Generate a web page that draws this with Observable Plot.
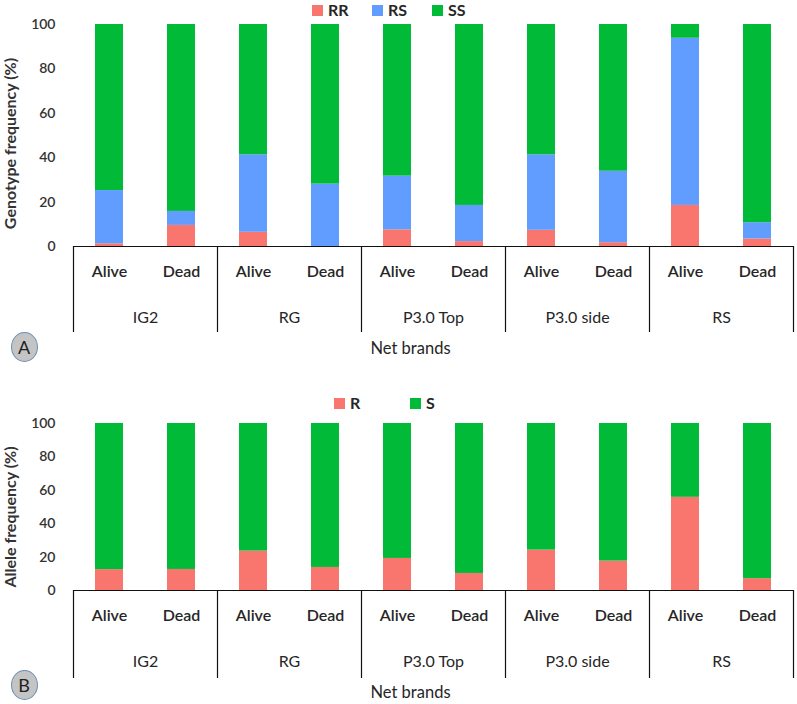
<!DOCTYPE html>
<html><head><meta charset="utf-8">
<script src="https://cdn.jsdelivr.net/npm/d3@7"></script>
<script src="https://cdn.jsdelivr.net/npm/@observablehq/plot@0.6"></script>
<style>
body{margin:0;background:#fff;font-family:Lato,"Open Sans",sans-serif;}
#wrap{position:relative;width:797px;height:704px;overflow:hidden;background:#fff}
.chart{position:absolute;left:0}
.legend{position:absolute;display:flex;align-items:center;font-weight:700;font-size:16px;line-height:20px;color:#262626;height:20px}
.legend span.sw{display:inline-block;width:11px;height:11px;margin-right:5px}
.legend span.item{display:flex;align-items:center}
.badge{position:absolute;width:27px;height:30px;border-radius:50%;background:#c4c4c4;border:1.5px solid #6f8fb5;box-sizing:border-box;display:flex;align-items:center;justify-content:center;font-size:18px;color:#222}
</style></head><body><div id="wrap"></div>
<script>
// ---- data ----
const groups = ["IG2", "RG", "P3.0 Top", "P3.0 side", "RS"];
const statuses = ["Alive", "Dead"];
const genotypeNames = ["RR", "RS", "SS"];
const RR = [1.2, 9.5, 6.4, 0.0, 7.5, 2.2, 7.3, 1.7, 18.5, 3.4];
const RSv = [24.0, 6.3, 34.9, 28.1, 24.2, 16.3, 34.0, 32.2, 75.3, 7.3];
const SS = [74.8, 84.2, 58.7, 71.9, 68.3, 81.5, 58.7, 66.1, 6.2, 89.3];
const alleleNames = ["R", "S"];
const R = [12.5, 12.6, 23.6, 13.8, 19.2, 10.2, 24.2, 17.6, 55.8, 7.1];
const S = [87.5, 87.4, 76.4, 86.2, 80.8, 89.8, 75.8, 82.4, 44.2, 92.9];
const colorRange3 = ["#F8766D", "#619CFF", "#00BA38"];
const colorRange2 = ["#F8766D", "#00BA38"];

const W = 797, ML = 73, MR = 4, MB = 114;
const FONT = "Lato, 'Open Sans', sans-serif";

function chart({series, names, colors, height, marginTop, yLabel, titleDy, sepPx}) {
  const keys = [];
  groups.forEach(g => statuses.forEach(s => keys.push(g + "|" + s)));
  const rows = [];
  names.forEach((n, j) => series[j].forEach((v, i) => rows.push({key: keys[i], name: n, value: v})));
  const bw = (W - ML - MR) / keys.length;
  const plotH = height - marginTop - MB;
  const ext = sepPx / (plotH / 100);
  const statusRows = keys.map(k => ({key: k, status: k.split("|")[1]}));
  const groupRows = groups.map(g => ({key: g + "|Alive", group: g}));
  const lastRow = [{key: groups[groups.length - 1] + "|Dead"}];
  return Plot.plot({
    width: W, height, marginLeft: ML, marginRight: MR, marginTop, marginBottom: MB,
    style: {fontFamily: FONT, fontSize: "14px", fontWeight: 600, color: "#333", background: "transparent", overflow: "visible"},
    x: {domain: keys, padding: 0, axis: null},
    y: {domain: [0, 100], ticks: 5, tickSize: 0, tickPadding: 18, label: null},
    color: {domain: names, range: colors},
    marks: [
      Plot.barY(rows, {x: "key", y: "value", fill: "name", insetLeft: 22, insetRight: 22}),
      Plot.ruleY([0], {stroke: "#111", strokeWidth: 1.2}),
      Plot.ruleX(groupRows, {x: "key", y1: 0, y2: -ext, dx: -bw / 2, stroke: "#111", strokeWidth: 1.2}),
      Plot.ruleX(lastRow, {x: "key", y1: 0, y2: -ext, dx: bw / 2, stroke: "#111", strokeWidth: 1.2}),
      Plot.text(statusRows, {x: "key", text: "status", frameAnchor: "bottom", dy: 30, fontSize: 16, fontWeight: 600, fill: "#262626"}),
      Plot.text(groupRows, {x: "key", text: "group", frameAnchor: "bottom", dx: bw / 2, dy: 76, fontSize: 16, fontWeight: 400, fill: "#262626"}),
      Plot.text(["Net brands"], {frameAnchor: "bottom", dx: -23, dy: 107, fontSize: 16.5, fontWeight: 400, fill: "#262626"}),
      Plot.text([yLabel], {frameAnchor: "left", textAnchor: "middle", dx: -63, dy: titleDy, rotate: -90, fontSize: 16, fontWeight: 700, fill: "#333"})
    ]
  });
}

const wrap = document.getElementById("wrap");

const c1 = chart({series: [RR, RSv, SS], names: genotypeNames, colors: colorRange3, height: 360, marginTop: 24, yLabel: "Genotype frequency (%)", titleDy: 8, sepPx: 86});
c1.classList.add("chart"); c1.style.top = "0px";
wrap.appendChild(c1);

const c2 = chart({series: [R, S], names: alleleNames, colors: colorRange2, height: 344, marginTop: 63, yLabel: "Allele frequency (%)", titleDy: 10, sepPx: 88});
c2.classList.add("chart"); c2.style.top = "360px";
wrap.appendChild(c2);

function legend(names, colors, lefts, top) {
  names.forEach((n, i) => {
    const d = document.createElement("div");
    d.className = "legend";
    d.style.left = lefts[i] + "px";
    d.style.top = top + "px";
    d.innerHTML = `<span class="item"><span class="sw" style="background:${colors[i]}"></span>${n}</span>`;
    wrap.appendChild(d);
  });
}
legend(genotypeNames, colorRange3, [312, 372, 432], 0);
legend(alleleNames, colorRange2, [334, 410], 393);

function badge(letter, cx, cy) {
  const b = document.createElement("div");
  b.className = "badge";
  b.textContent = letter;
  b.style.left = (cx - 13.5) + "px";
  b.style.top = (cy - 15) + "px";
  wrap.appendChild(b);
}
badge("A", 24, 347);
badge("B", 24, 685);
</script></body></html>
